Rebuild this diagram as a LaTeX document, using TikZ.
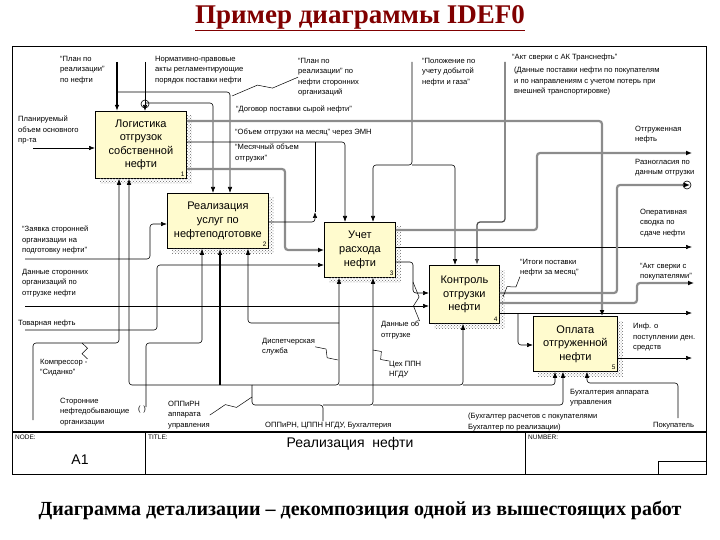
\documentclass[tikz,border=0pt]{standalone}
\usepackage{fontspec}
\setmainfont{Liberation Serif}
\setsansfont{Liberation Sans}
\usetikzlibrary{arrows.meta,positioning,calc,patterns}
\definecolor{idefbox}{RGB}{255,251,206}
\definecolor{idefgray}{RGB}{140,140,140}
\definecolor{idefred}{RGB}{128,0,0}
\newcommand{\lblfont}{\sffamily\fontsize{7.6}{10.4}\selectfont}
\newcommand{\bolt}[2]{\draw[line width=.5pt] (#1) -- ($(#1)!.40!(#2)!3.5pt!90:(#2)$) -- ($(#1)!.60!(#2)!3.5pt!-90:(#2)$) -- (#2);}

\begin{document}
\begin{tikzpicture}[x=1pt,y=-1pt,
act/.style={draw,line width=.8pt,fill=idefbox,anchor=north west,align=center,inner sep=0pt,font=\sffamily\fontsize{11}{13.6}\selectfont},
num/.style={anchor=south east,inner sep=2pt,font=\sffamily\fontsize{6.5}{7}\selectfont},
lbl/.style={anchor=north west,align=left,inner sep=0pt,font=\lblfont},
arr/.style={-{Latex[length=6pt,width=4.5pt]},line width=.6pt,rounded corners=3pt},
thk/.style={arr,line width=1.6pt},
grr/.style={-{Latex[length=6pt,width=5pt,color=black]},draw=idefgray,line width=2.2pt,rounded corners=3pt},
ln/.style={line width=.6pt,rounded corners=3pt},
tun/.style={draw,circle,minimum size=8pt,inner sep=0pt,line width=.6pt}]
\useasboundingbox (0,0) rectangle (720,540);

\node[font=\bfseries\fontsize{27}{30}\selectfont,text=idefred] (ttl) at (360,18) {\underline{Пример диаграммы IDEF0}};
\node[font=\bfseries\fontsize{20}{23}\selectfont] (cap) at (360,510) {Диаграмма детализации – декомпозиция одной из вышестоящих работ};

% frame
\draw[line width=.9pt] (12,46) rectangle (706,474);
\draw[line width=2pt] (12,432) -- (706,432);
\draw[line width=.9pt] (145,432) -- (145,474) (525,432) -- (525,474) (658,474) |- (706,461);
\node[lbl,font=\sffamily\fontsize{6.5}{7}\selectfont] (fNode) at (15,435) {NODE:};
\node[lbl,font=\sffamily\fontsize{6.5}{7}\selectfont] (fTitle) at (148,435) {TITLE:};
\node[lbl,font=\sffamily\fontsize{6.5}{7}\selectfont] (fNum) at (528,435) {NUMBER:};
\node[font=\sffamily\fontsize{14}{16}\selectfont] (fA1) at (80,460) {A1};
\node[font=\sffamily\fontsize{14}{16}\selectfont] (fName) at (350,444) {Реализация\ \ нефти};

% activities
\node[act,minimum width=91pt,minimum height=67pt] (b1) at (95,111) {Логистика\\отгрузок\\собственной\\нефти};
\node[act,minimum width=101pt,minimum height=55pt] (b2) at (167,193) {Реализация\\услуг по\\нефтеподготовке};
\node[act,minimum width=71pt,minimum height=55pt] (b3) at (324,222) {Учет\\расхода\\нефти};
\node[act,minimum width=70pt,minimum height=58pt] (b4) at (429,265) {Контроль\\отгрузки\\нефти};
\node[act,minimum width=84pt,minimum height=55pt] (b5) at (533,316) {Оплата\\отгруженной\\нефти};
\foreach \b/\n in {b1/1,b2/2,b3/3,b4/4,b5/5}{
 \fill[pattern=crosshatch dots,pattern color=black!60] ($(\b.north east)+(0,5)$) rectangle ($(\b.south east)+(5,5)$);
 \fill[pattern=crosshatch dots,pattern color=black!60] ($(\b.south west)+(5,0)$) rectangle ($(\b.south east)+(0,5)$);
 \node[num] (n\n) at (\b.south east) {\n};
}

% controls
\coordinate (tPlan) at (117,62);
\coordinate (tNorm) at (145,62);
\coordinate (tPol) at (412,62);
\coordinate (tAkt) at (505,62);
\draw[thk] (tPlan) -- (117,0 |- b1.north);
\draw[arr] (117,92) -| (230,0 |- b2.north);
\draw[arr] (tNorm) -- (145,0 |- b1.north);
\node[tun] (tun1) at (145,104) {};
\draw[arr] (145,103) -| (213,0 |- b2.north);
\draw[arr] (tPol) |- (373,165) -- (373,0 |- b3.north);
\draw[arr] (412,165) -| (455,0 |- b4.north);
\draw[arr,draw=black!70,line width=1.2pt] (tAkt) |- (477,222) -- (477,0 |- b4.north);

% inputs
\coordinate (iObj) at (33,148);
\coordinate (iZay) at (25,259);
\coordinate (iDan) at (25,306);
\coordinate (iTov) at (25,330);
\draw[arr] (iObj) -- (b1.west |- iObj);
\draw[arr] (iZay) -| (150,224) -- (b2.west |- 0,224);
\draw[arr] (iTov) -| (157,265) -- (b3.west |- 0,265);
\draw[arr] (iDan) -- (b4.west |- iDan);

% outputs between activities
\draw[grr] (b1.east |- 0,121) -| (602,0 |- b5.north);
\draw[arr] (b1.east |- 0,142) -| (345,0 |- b3.north);
\draw[grr] (b1.east |- 0,169) -| (285,250) -- (b3.west |- 0,250);
\draw[arr] (b2.east |- 0,222) -| (315,212);
\draw[ln] (315,212) -- (315,142);
\draw[arr] (b3.east |- 0,262) -| (413,293) -- (b4.west |- 0,293);
\draw[arr] (518,313) |- (b5.west |- 0,345);

% outputs
\coordinate (oOtg) at (692,153);
\coordinate (oRaz) at (690,185);
\coordinate (oSvd) at (692,247);
\coordinate (oAkt) at (694,283);
\coordinate (oPst) at (692,313);
\coordinate (oInf) at (692,358);
\draw[grr] (b3.east |- 0,230) -| (537,153) -- (oOtg);
\draw[arr] (b3.east |- 0,247) -- (oSvd);
\draw[grr] (b4.east |- 0,293) -| (617,185) -- (oRaz);
\node[tun] (tun2) at (687,185) {};
\draw[grr] (b4.east |- 0,303) -| (637,283) -- (oAkt);
\draw[arr] (b4.east |- 0,313) -- (oPst);
\draw[arr] (b5.east |- 0,358) -- (oInf);

% mechanisms
\coordinate (mKmp) at (33,420);
\coordinate (mStr) at (146,407);
\coordinate (mOpp) at (323,421);
\coordinate (mPok) at (678,418);
\draw[arr] (mKmp) |- (119,343) -- (119,0 |- b1.south);
\draw[arr] (mStr) |- (202,343) -- (202,0 |- b2.south);
\draw[ln] (mOpp) |- (252,405) -- (252,385);
\draw[arr] (323,405) -| (373,0 |- b3.south);
\draw[arr] (373,405) -| (563,0 |- b5.south);
\draw[arr] (252,385) -| (129,0 |- b1.south);
\draw[thk] (220,385) -- (220,0 |- b2.south);
\draw[arr] (252,385) -| (339,0 |- b3.south);
\draw[arr] (339,385) -| (463,0 |- b4.south);
\draw[arr] (463,385) -| (555,0 |- b5.south);
\draw[arr] (339,323) -| (248,0 |- b2.south);
\draw[arr] (mPok) |- (587,383) -- (587,0 |- b5.south);

% labels
\node[lbl] (lObj) at (18,116) {Планируемый\\объем основного\\пр-та};
\node[lbl] (lZay) at (22,226) {“Заявка сторонней\\организации на\\подготовку нефти”};
\node[lbl] (lDan) at (22,269) {Данные сторонних\\организаций по\\отгрузке нефти};
\node[lbl] (lTov) at (18,320) {Товарная нефть};
\node[lbl] (lPlan) at (60,56) {“План по\\реализации”\\по нефти};
\node[lbl] (lNorm) at (155,56) {Нормативно-правовые\\акты регламентирующие\\порядок поставки нефти};
\node[lbl] (lPlS) at (298,58) {“План по\\реализации” по\\нефти сторонних\\организаций};
\node[lbl] (lDog) at (236,106) {“Договор поставки сырой нефти”};
\node[lbl] (lObM) at (235,129) {“Объем отгрузки на месяц” через ЭМН};
\node[lbl] (lMes) at (235,144) {“Месячный объем\\отгрузки”};
\node[lbl] (lPol) at (422,58) {“Положение по\\учету добытой\\нефти и газа”};
\node[lbl] (lAkt) at (512,54) {“Акт сверки с АК Транснефть”};
\node[lbl] (lAktD) at (514,67) {(Данные поставки нефти по покупателям\\и по направлениям с учетом потерь при\\внешней транспортировке)};
\node[lbl] (lOtg) at (635,126) {Отгруженная\\нефть};
\node[lbl] (lRaz) at (635,159) {Разногласия по\\данным отгрузки};
\node[lbl] (lSvd) at (640,209) {Оперативная\\сводка по\\сдаче нефти};
\node[lbl] (lAkP) at (640,263) {“Акт сверки с\\покупателями”};
\node[lbl] (lItg) at (520,259) {“Итоги поставки\\нефти за месяц”};
\node[lbl] (lInf) at (633,323) {Инф. о\\поступлении ден.\\средств};
\node[lbl] (lDob) at (381,321) {Данные об\\отгрузке};
\node[lbl] (lDsp) at (262,338) {Диспетчерская\\служба};
\node[lbl] (lCeh) at (389,361) {Цех ППН\\НГДУ};
\node[lbl] (lKmp) at (40,359) {Компрессор -\\“Сиданко”};
\node[lbl] (lStr) at (60,398) {Сторонние\\нефтедобывающие\\организации};
\node[lbl] (lPar) at (138,406) {(\,\,)};
\node[lbl] (lOpA) at (168,401) {ОППиРН\\аппарата\\управления};
\node[lbl] (lOpC) at (265,422) {ОППиРН, ЦППН НГДУ, Бухгалтерия};
\node[lbl] (lBuh) at (570,389) {Бухгалтерия аппарата\\управления};
\node[lbl] (lBuR) at (468,413) {(Бухгалтер расчетов с покупателями\\Бухгалтер по реализации)};
\node[lbl] (lPok) at (653,422) {Покупатель};

% label leaders
\bolt{lPlS.west}{232,96}
\bolt{82,343}{lKmp.north east}
\bolt{lOpA.east}{252,397}
\bolt{lDsp.east}{338,360}
\bolt{373,350}{lCeh.north west}
\bolt{lDob.north east}{413,282}
\bolt{lItg.south west}{503,297}
\end{tikzpicture}
\end{document}
